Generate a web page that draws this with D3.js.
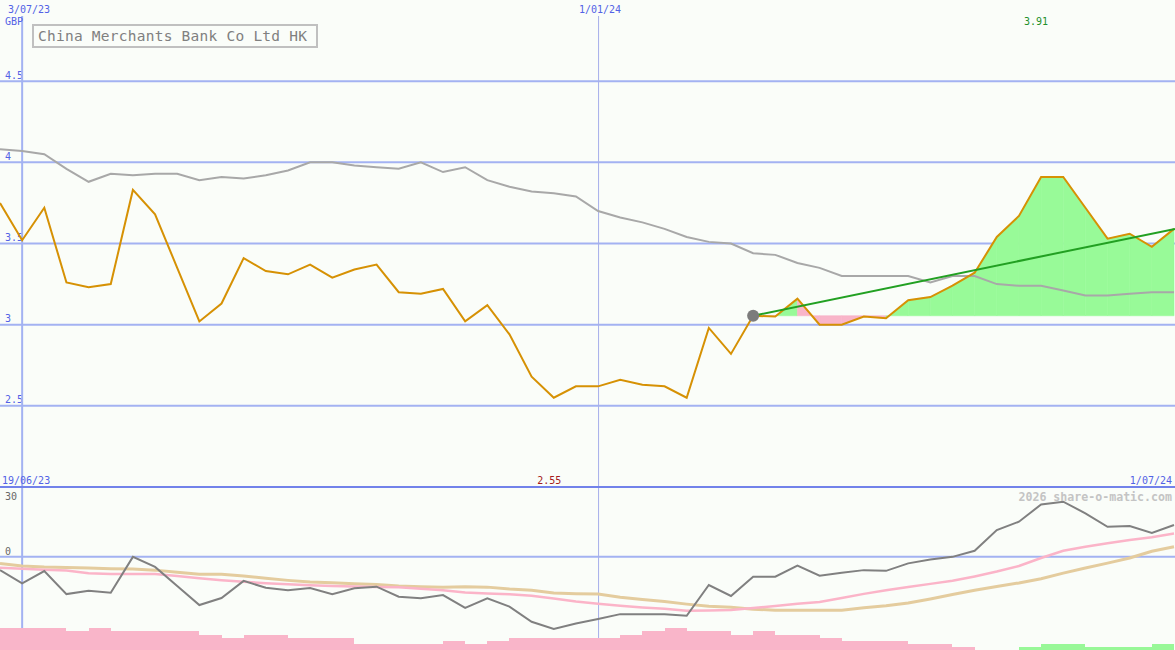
<!DOCTYPE html>
<html><head><meta charset="utf-8">
<script src="https://cdn.jsdelivr.net/npm/d3@7"></script>
<style>
body{margin:0;background:#fafdf9}
svg{display:block}
text{font-family:"DejaVu Sans Mono",monospace}
</style>
</head><body><svg id="c" width="1175" height="650"></svg>
<script>
// ---------- DATA ----------
const dates = ["2023-06-26","2023-07-03","2023-07-10","2023-07-17","2023-07-24","2023-07-31","2023-08-07","2023-08-14","2023-08-21","2023-08-28",
"2023-09-04","2023-09-11","2023-09-18","2023-09-25","2023-10-02","2023-10-09","2023-10-16","2023-10-23","2023-10-30","2023-11-06",
"2023-11-13","2023-11-20","2023-11-27","2023-12-04","2023-12-11","2023-12-18","2023-12-25","2024-01-01","2024-01-08","2024-01-15",
"2024-01-22","2024-01-29","2024-02-05","2024-02-12","2024-02-19","2024-02-26","2024-03-04","2024-03-11","2024-03-18","2024-03-25",
"2024-04-01","2024-04-08","2024-04-15","2024-04-22","2024-04-29","2024-05-06","2024-05-13","2024-05-20","2024-05-27","2024-06-03",
"2024-06-10","2024-06-17","2024-06-24","2024-07-01"];
const price = [3.75,3.52,3.72,3.26,3.23,3.25,3.83,3.68,3.35,3.02,
3.13,3.41,3.33,3.31,3.37,3.29,3.34,3.37,3.20,3.19,
3.22,3.02,3.12,2.94,2.68,2.55,2.62,2.62,2.66,2.63,
2.62,2.55,2.98,2.82,3.055,3.05,3.16,3.00,3.00,3.05,
3.04,3.15,3.17,3.24,3.32,3.54,3.67,3.91,3.91,3.72,
3.53,3.56,3.48,3.59];
const priceMA = [4.08,4.07,4.05,3.96,3.88,3.93,3.92,3.93,3.93,3.89,
3.91,3.90,3.92,3.95,4.00,4.00,3.98,3.97,3.96,4.00,
3.94,3.97,3.89,3.85,3.82,3.81,3.79,3.70,3.66,3.63,
3.59,3.54,3.51,3.50,3.44,3.43,3.38,3.35,3.30,3.30,
3.30,3.30,3.26,3.30,3.30,3.25,3.24,3.24,3.21,3.18,
3.18,3.19,3.20,3.20];
const momentum = [-5.7,-11.4,-6.1,-16.0,-14.6,-15.4,0.0,-4.3,-12.5,-20.7,
-17.7,-10.3,-13.3,-14.3,-13.4,-16.0,-13.5,-12.8,-17.1,-17.8,
-16.4,-21.9,-17.8,-21.4,-27.9,-31.0,-28.6,-26.7,-24.6,-24.6,
-24.6,-25.3,-12.1,-16.8,-8.5,-8.5,-3.8,-8.1,-6.8,-5.7,
-6.0,-2.8,-1.1,0.0,2.6,11.5,15.1,22.5,23.7,18.7,
12.9,13.2,10.3,13.7];
const momAvgPink = [-4.7,-5.1,-5.5,-5.9,-7.0,-7.4,-7.4,-7.4,-8.2,-9.2,
-10.0,-10.7,-11.3,-11.8,-12.2,-12.5,-12.7,-12.9,-13.1,-13.7,
-14.3,-15.3,-15.7,-16.1,-16.7,-17.9,-19.2,-20.1,-21.0,-21.7,
-22.3,-23.1,-23.0,-22.8,-22.0,-21.1,-20.1,-19.4,-17.7,-15.9,
-14.3,-12.9,-11.6,-10.3,-8.4,-6.3,-3.9,-0.5,2.6,4.3,
5.8,7.2,8.4,10.0];
const momAvgTan = [-2.8,-3.9,-4.4,-4.6,-4.8,-5.1,-5.2,-5.7,-6.6,-7.5,
-7.5,-8.2,-9.2,-10.1,-10.8,-11.1,-11.5,-11.9,-12.5,-12.8,
-13.1,-12.8,-13.0,-13.8,-14.3,-15.5,-15.8,-16.0,-17.3,-18.3,
-19.2,-20.3,-21.2,-21.6,-22.5,-22.9,-22.9,-22.9,-22.9,-21.9,
-21.0,-19.8,-18.1,-16.2,-14.3,-12.7,-11.2,-9.4,-7.0,-4.8,
-2.7,-0.5,2.4,4.3];
const histogram = [-9.6,-9.6,-9.6,-8.2,-9.6,-8.2,-8.2,-8.2,-8.2,-6.4,
-5.2,-6.4,-6.4,-5.2,-5.2,-5.2,-2.6,-2.6,-2.6,-2.6,
-3.9,-2.6,-3.9,-5.2,-5.2,-5.2,-5.2,-5.2,-6.4,-8.2,
-9.6,-8.2,-8.2,-6.4,-8.2,-6.4,-6.4,-5.2,-3.9,-3.9,
-3.9,-2.6,-2.6,-1.3,0,0,1.3,2.6,2.6,1.3,
1.3,1.3,2.6];
const trendStartIndex = 34;
const trendValues = [3.055, 3.59];
const mainTicks = [4.5, 4, 3.5, 3, 2.5];
const mainTickLabels = ["4.5","4","3.5","3","2.5"];
const lowTicks = [30, 0, -40];
const lowTickLabels = ["30","0","-40"];
const title = "China Merchants Bank Co Ltd HK";
const currency = "GBP";
const watermark = "2026 share-o-matic.com";

// ---------- SETUP ----------
const W = 1175, H = 650;
const parse = d3.timeParse("%Y-%m-%d");
const D = dates.map(parse);
const fmt = d3.timeFormat("%-d/%m/%y");
const svg = d3.select("#c");
const x = d3.scaleTime().domain([D[0], D[D.length-1]]).range([0, 1174]);
const yM = d3.scaleLinear().domain([2, 5]).range([487, 0]);
const yL = d3.scaleLinear().domain([-40, 30]).range([650, 487]);

const GRID = "#a3b2f2", BLUE_T = "#5262e6";

svg.append("rect").attr("width", W).attr("height", H).attr("fill", "#fafdf9");

// tick labels (under lines)
svg.selectAll(".mt").data(mainTicks).enter().append("text")
  .attr("x", 5).attr("y", d => yM(d) - 2.5).attr("font-size", 10).attr("fill", BLUE_T)
  .text((d,i) => mainTickLabels[i]);
svg.selectAll(".lt").data(lowTicks).enter().append("text")
  .attr("x", 5).attr("y", (d,i) => i === 0 ? yL(d) + 12.5 : (i === 1 ? yL(d) - 2 : yL(d) - 5))
  .attr("font-size", 10).attr("fill", "#686868")
  .text((d,i) => lowTickLabels[i]);

// horizontal grid
svg.selectAll(".hg").data(mainTicks).enter().append("line")
  .attr("x1", 0).attr("x2", W).attr("y1", d => yM(d)).attr("y2", d => yM(d))
  .attr("stroke", GRID).attr("stroke-width", 2);
svg.append("line").attr("x1", 0).attr("x2", W).attr("y1", yL(0)).attr("y2", yL(0))
  .attr("stroke", GRID).attr("stroke-width", 2);
// vertical date lines
svg.append("line").attr("x1", x(D[1])).attr("x2", x(D[1])).attr("y1", 16).attr("y2", H)
  .attr("stroke", GRID).attr("stroke-width", 2);
svg.append("line").attr("x1", x(D[27]) + 0.5).attr("x2", x(D[27]) + 0.5).attr("y1", 16).attr("y2", H)
  .attr("stroke", "#a6aeea").attr("stroke-width", 1);
// divider
svg.append("line").attr("x1", 0).attr("x2", W).attr("y1", yL(30)).attr("y2", yL(30))
  .attr("stroke", "#7282ea").attr("stroke-width", 2);

// histogram bars
svg.selectAll(".bar").data(histogram).enter().append("rect")
  .attr("x", (d,i) => x(D[i]))
  .attr("width", (d,i) => x(D[i+1]) - x(D[i]))
  .attr("y", d => yL(-40 + Math.abs(d)))
  .attr("height", d => yL(-40) - yL(-40 + Math.abs(d)))
  .attr("fill", d => d >= 0 ? "#98f898" : "#f9b5c9")
  .attr("shape-rendering", "crispEdges");

// fill from trend start
const base = price[trendStartIndex];
const segs = [];
for (let i = trendStartIndex; i < price.length - 1; i++) segs.push(i);
svg.selectAll(".seg").data(segs).enter().append("path")
  .attr("d", i => {
    const yb = yM(base);
    return `M${x(D[i])},${yb}L${x(D[i])},${yM(price[i])}L${x(D[i+1])},${yM(price[i+1])}L${x(D[i+1])},${yb}Z`;
  })
  .attr("fill", i => price[i+1] >= base ? "#98fa98" : "#f9b5c9")
  .attr("stroke", i => price[i+1] >= base ? "#98fa98" : "#f9b5c9").attr("stroke-width", 0.6);

// lines
const lineM = arr => d3.line().x((d,i) => x(D[i])).y(d => yM(d))(arr);
const lineL = arr => d3.line().x((d,i) => x(D[i])).y(d => yL(d))(arr);
svg.append("path").attr("d", lineM(priceMA)).attr("fill", "none").attr("stroke", "#a8a8a8").attr("stroke-width", 2);
svg.append("path").attr("d", lineM(price)).attr("fill", "none").attr("stroke", "#d69104").attr("stroke-width", 2);
// trend
svg.append("line")
  .attr("x1", x(D[trendStartIndex])).attr("y1", yM(trendValues[0]))
  .attr("x2", x(D[D.length-1]) + 1).attr("y2", yM(trendValues[1]))
  .attr("stroke", "#22a022").attr("stroke-width", 2);
svg.append("circle").attr("cx", x(D[trendStartIndex])).attr("cy", yM(price[trendStartIndex])).attr("r", 6)
  .attr("fill", "#7c7c7c");

// lower lines
svg.append("path").attr("d", lineL(momAvgTan)).attr("fill", "none").attr("stroke", "#e4cc9e").attr("stroke-width", 3);
svg.append("path").attr("d", lineL(momAvgPink)).attr("fill", "none").attr("stroke", "#fbb4c8").attr("stroke-width", 2.5);
svg.append("path").attr("d", lineL(momentum)).attr("fill", "none").attr("stroke", "#808080").attr("stroke-width", 2);

// date labels
svg.append("text").attr("x", 8).attr("y", 13).attr("font-size", 10).attr("fill", BLUE_T).text(fmt(D[1]));
svg.append("text").attr("x", 5).attr("y", 25).attr("font-size", 10).attr("fill", BLUE_T).text(currency);
svg.append("text").attr("x", x(D[27]) + 2).attr("y", 13).attr("font-size", 10).attr("fill", BLUE_T)
  .attr("text-anchor", "middle").text(fmt(D[27]));
svg.append("text").attr("x", 2).attr("y", 483.5).attr("font-size", 10).attr("fill", BLUE_T).text("19/06/23");
svg.append("text").attr("x", 1172).attr("y", 483.5).attr("font-size", 10).attr("fill", BLUE_T)
  .attr("text-anchor", "end").text(fmt(D[D.length-1]));

// min / max labels
const maxV = d3.max(price), minV = d3.min(price);
const iMax = price.indexOf(maxV), iMin = price.indexOf(minV);
svg.append("text").attr("x", x(D[iMax]) - 5).attr("y", 25).attr("font-size", 10).attr("fill", "#22902a")
  .attr("text-anchor", "middle").text(maxV.toFixed(2));
svg.append("text").attr("x", x(D[iMin]) - 4.5).attr("y", 483.5).attr("font-size", 10).attr("fill", "#a51c1c")
  .attr("text-anchor", "middle").text(minV.toFixed(2));

// title box
svg.append("rect").attr("x", 33).attr("y", 25).attr("width", 284).attr("height", 22)
  .attr("fill", "#fafdf9").attr("stroke", "#c0c0c0").attr("stroke-width", 2);
svg.append("text").attr("x", 38).attr("y", 41).attr("font-size", 14.5).attr("fill", "#808080")
  .attr("textLength", 269).attr("lengthAdjust", "spacing").text(title);

// watermark
svg.append("text").attr("x", 1172).attr("y", 500.5).attr("font-size", 11.6).attr("font-weight", "bold")
  .attr("fill", "#c4c4c4").attr("text-anchor", "end").text(watermark);
</script>
</body></html>
